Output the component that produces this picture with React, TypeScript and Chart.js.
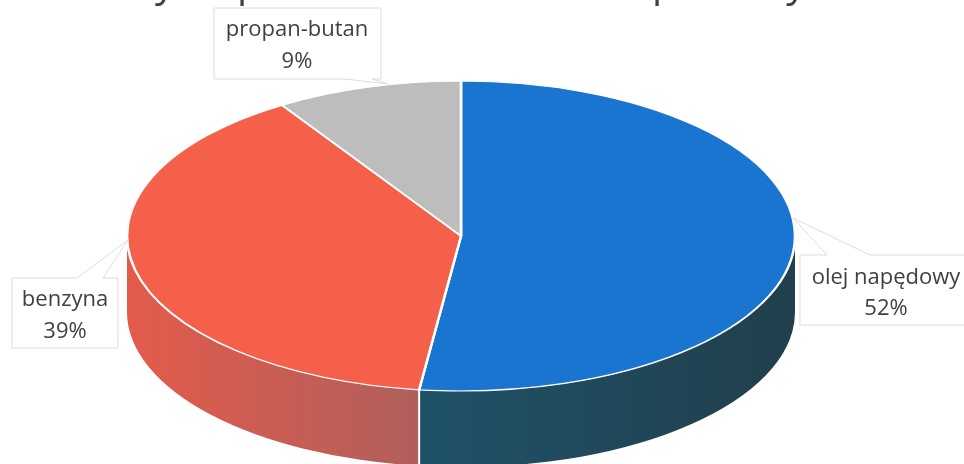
import React, { useEffect, useRef } from 'react';
import { Chart, registerables } from 'chart.js';

Chart.register(...registerables);

// ---- data ----
const TITLE = 'Zużycie paliw w sektorze transportowym';
const categories = ['olej napędowy', 'benzyna', 'propan-butan'];
const shares = [52, 39, 9];

// ---- styles ----
const topColors = ['#1a75d1', '#f5604a', '#bdbdbd'];
const sideLeft = ['#1f5269', '#e35b4b', '#9a9a9a'];
const sideRight = ['#213f4c', '#b05f5c', '#7d7d7d'];

// ---- layout ----
const W = 964;
const H = 464;
const CX = 461;
const CY = 236;
const RX = 334;
const RY = 155;
const DEPTH = 76;

type Callout = {
  box: [number, number, number, number];
  edge: 'top' | 'bottom';
  base: [number, number];
  apex: [number, number];
  lines: [number, number];
  tx: number;
};

const callouts: Callout[] = [
  { box: [800, 255, 172, 70], edge: 'top', base: [827, 870], apex: [793, 218], lines: [284, 315], tx: 886 },
  { box: [12, 278, 106, 70], edge: 'top', base: [77, 103], apex: [128, 240], lines: [306, 338], tx: 65 },
  { box: [214, 8, 167, 71], edge: 'bottom', base: [345, 372], apex: [388, 84], lines: [36, 68], tx: 297 },
];

const pie3d = {
  id: 'pie3d',
  beforeDatasetsDraw(chart: any) {
    const ctx: CanvasRenderingContext2D = chart.ctx;
    const meta = chart.getDatasetMeta(0);
    meta.data.forEach((arc: any, i: number) => {
      const s = Math.max(arc.startAngle, 0);
      const e = Math.min(arc.endAngle, Math.PI);
      if (e <= s) return;
      const x1 = CX + RX * Math.cos(s);
      const x2 = CX + RX * Math.cos(e);
      const g = ctx.createLinearGradient(Math.min(x1, x2), 0, Math.max(x1, x2), 0);
      g.addColorStop(0, sideLeft[i]);
      g.addColorStop(1, sideRight[i]);
      ctx.beginPath();
      ctx.ellipse(CX, CY, RX, RY, 0, s, e, false);
      ctx.lineTo(CX + RX * Math.cos(e), CY + RY * Math.sin(e) + DEPTH);
      ctx.ellipse(CX, CY + DEPTH, RX, RY, 0, e, s, true);
      ctx.closePath();
      ctx.fillStyle = g;
      ctx.fill();
    });
    meta.data.forEach((arc: any) => {
      const a = arc.startAngle;
      if (a > 0 && a < Math.PI) {
        const x = CX + RX * Math.cos(a);
        const y = CY + RY * Math.sin(a);
        ctx.beginPath();
        ctx.moveTo(x, y);
        ctx.lineTo(x, y + DEPTH);
        ctx.strokeStyle = '#ffffff';
        ctx.lineWidth = 2;
        ctx.stroke();
      }
    });
    const a0 = meta.data[0];
    const R = a0.outerRadius;
    ctx.save();
    ctx.translate(CX, CY);
    ctx.scale(RX / R, RY / R);
    ctx.translate(-a0.x, -a0.y);
  },
  afterDatasetsDraw(chart: any) {
    chart.ctx.restore();
  },
};

const annotations = {
  id: 'annotations',
  afterDraw(chart: any) {
    const ctx: CanvasRenderingContext2D = chart.ctx;
    ctx.save();
    // title (cropped at top)
    ctx.font = '40px "Open Sans"';
    ctx.fillStyle = '#404040';
    ctx.textAlign = 'center';
    ctx.textBaseline = 'alphabetic';
    ctx.fillText(TITLE, 466, -4);

    callouts.forEach((c, i) => {
      const [x, y, w, h] = c.box;
      ctx.beginPath();
      if (c.edge === 'top') {
        ctx.moveTo(x, y);
        ctx.lineTo(c.base[0], y);
        ctx.lineTo(c.apex[0], c.apex[1]);
        ctx.lineTo(c.base[1], y);
        ctx.lineTo(x + w, y);
        ctx.lineTo(x + w, y + h);
        ctx.lineTo(x, y + h);
      } else {
        ctx.moveTo(x, y);
        ctx.lineTo(x + w, y);
        ctx.lineTo(x + w, y + h);
        ctx.lineTo(c.base[1], y + h);
        ctx.lineTo(c.apex[0], c.apex[1]);
        ctx.lineTo(c.base[0], y + h);
        ctx.lineTo(x, y + h);
      }
      ctx.closePath();
      ctx.fillStyle = '#ffffff';
      ctx.fill();
      ctx.strokeStyle = '#dcdcdc';
      ctx.lineWidth = 1;
      ctx.stroke();

      ctx.font = '22px "Open Sans"';
      ctx.fillStyle = '#404040';
      ctx.textAlign = 'center';
      ctx.fillText(categories[i], c.tx, c.lines[0]);
      ctx.fillText(`${shares[i]}%`, c.tx, c.lines[1]);
    });
    ctx.restore();
  },
};

export default function App() {
  const ref = useRef<HTMLCanvasElement>(null);

  useEffect(() => {
    document.body.style.margin = '0';
    const canvas = ref.current;
    if (!canvas) return;
    const chart = new Chart(canvas, {
      type: 'pie',
      data: {
        labels: categories,
        datasets: [
          {
            data: shares,
            backgroundColor: topColors,
            borderColor: '#ffffff',
            borderWidth: 1.8,
            clip: false as any,
          },
        ],
      },
      options: {
        animation: false,
        responsive: false,
        layout: { padding: 0 },
        plugins: {
          legend: { display: false },
          tooltip: { enabled: false },
          title: { display: false },
        },
      },
      plugins: [pie3d, annotations],
    });
    return () => chart.destroy();
  }, []);

  return (
    <div style={{ width: W, height: H, background: '#ffffff' }}>
      <canvas ref={ref} width={W} height={H} style={{ display: 'block' }} />
    </div>
  );
}
